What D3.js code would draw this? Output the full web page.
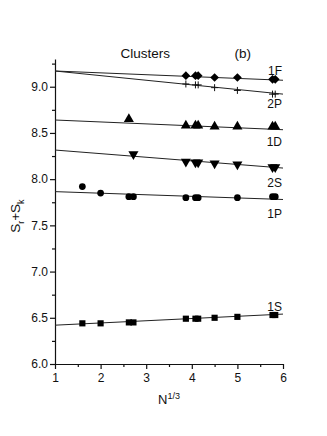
<!DOCTYPE html>
<html>
<head>
<meta charset="utf-8">
<script src="https://cdn.jsdelivr.net/npm/d3@7"></script>
<style>
  body { margin: 0; background: #fff; }
  text { font-family: Arial, "Liberation Sans", sans-serif; fill: #111; }
</style>
</head>
<body>
<div id="chart"></div>
<script>
// cluster sizes on x (N^1/3), one list of values per state
const xs = [1.6, 2.0, 2.62, 2.72, 3.87, 4.08, 4.14, 4.5, 5.0, 5.77, 5.83];

const s1S = [6.44, 6.44, 6.45, 6.45, 6.49, 6.49, 6.49, 6.50, 6.51, 6.53, 6.53];
const p1P = [7.92, 7.85, 7.81, 7.81, 7.80, 7.80, 7.80, null, 7.80, 7.81, 7.81];
const s2S = [null, null, null, 8.27, 8.19, 8.18, 8.18, 8.17, 8.16, 8.13, 8.13];
const d1D = [null, null, 8.65, null, 8.58, 8.58, 8.58, 8.57, 8.57, 8.57, 8.57];
const p2P = [null, null, null, null, 9.03, 9.02, 9.02, 8.99, 8.96, 8.92, 8.92];
const f1F = [null, null, null, null, 9.12, 9.12, 9.12, 9.10, 9.10, 9.08, 9.08];

// fitted lines: value at x = 1 and x = 6
const fits = {
  "1S": [6.42, 6.54],
  "1P": [7.865, 7.78],
  "2S": [8.315, 8.12],
  "1D": [8.64, 8.535],
  "2P": [9.17, 8.92],
  "1F": [9.17, 9.07]
};

const xTicks = [1, 2, 3, 4, 5, 6];
const yTicks = [6.0, 6.5, 7.0, 7.5, 8.0, 8.5, 9.0];

const series = [
  {name: "1S", vals: s1S, sym: d3.symbolSquare, size: 38, labelDy: -3},
  {name: "1P", vals: p1P, sym: d3.symbolCircle, size: 36, labelDy: 19},
  {name: "2S", vals: s2S, sym: "down", size: 44, labelDy: 19},
  {name: "1D", vals: d1D, sym: d3.symbolTriangle, size: 44, labelDy: 16},
  {name: "2P", vals: p2P, sym: "plus", size: 0, labelDy: 14},
  {name: "1F", vals: f1F, sym: "diamond", size: 38, labelDy: -5}
];

const margin = {top: 59, right: 44, bottom: 72, left: 55};
const W = 327, H = 436;
const width = W - margin.left - margin.right;
const height = H - margin.top - margin.bottom;

const svg = d3.select("#chart").append("svg")
  .attr("width", W)
  .attr("height", H)
  .append("g")
  .attr("transform", `translate(${margin.left},${margin.top})`);

const x = d3.scaleLinear().domain([1, 6]).range([0, width]);
const y = d3.scaleLinear().domain([6.0, 9.3]).range([height, 0]);

// axes
const xAxis = svg.append("g")
  .attr("transform", `translate(0,${height})`)
  .call(d3.axisBottom(x).tickValues(xTicks).tickFormat(d3.format("d")).tickSize(5).tickSizeOuter(0));
const xMinor = svg.append("g")
  .attr("transform", `translate(0,${height})`)
  .call(d3.axisBottom(x).tickValues(d3.range(1.5, 6, 1)).tickFormat("").tickSize(3).tickSizeOuter(0));
xMinor.select(".domain").remove();

const yAxis = svg.append("g")
  .call(d3.axisLeft(y).tickValues(yTicks).tickFormat(d3.format(".1f")).tickSize(5).tickSizeOuter(0));
const yMinor = svg.append("g")
  .call(d3.axisLeft(y).tickValues(d3.range(6.25, 9.3, 0.5)).tickFormat("").tickSize(3).tickSizeOuter(0));
yMinor.select(".domain").remove();

svg.selectAll(".tick text").style("font-size", "12px").style("font-family", "Arial, 'Liberation Sans', sans-serif");
xAxis.selectAll(".tick text").attr("dy", "0.85em");
yAxis.selectAll(".tick text").attr("x", -7);
svg.selectAll(".domain, .tick line").attr("stroke", "#111").attr("stroke-width", 1.2);

// fit lines
Object.entries(fits).forEach(([k, v]) => {
  svg.append("line")
    .attr("x1", x(1)).attr("y1", y(v[0]))
    .attr("x2", x(6)).attr("y2", y(v[1]))
    .attr("stroke", "#222")
    .attr("stroke-width", 1);
});

// markers
series.forEach(s => {
  const pts = xs.map((xv, i) => ({x: xv, y: s.vals[i]})).filter(d => d.y != null);
  const g = svg.append("g");
  if (s.sym === "plus") {
    g.selectAll("path").data(pts).enter().append("path")
      .attr("d", d => {
        const cx = x(d.x), cy = y(d.y);
        return `M${cx - 3.5},${cy}H${cx + 3.5}M${cx},${cy - 3.5}V${cy + 3.5}`;
      })
      .attr("stroke", "#111").attr("stroke-width", 1).attr("fill", "none");
  } else {
    const isDown = s.sym === "down";
    const isDiamond = s.sym === "diamond";
    const type = isDown ? d3.symbolTriangle : (isDiamond ? d3.symbolSquare : s.sym);
    const sym = d3.symbol().type(type).size(s.size);
    g.selectAll("path").data(pts).enter().append("path")
      .attr("d", sym)
      .attr("transform", d => `translate(${x(d.x)},${y(d.y)})` +
        (isDown ? " rotate(180)" : "") + (isDiamond ? " rotate(45)" : ""))
      .attr("fill", "#000");
  }
  // state label near right end
  svg.append("text")
    .attr("x", x(6) - 1)
    .attr("y", y(fits[s.name][1]) + s.labelDy)
    .attr("text-anchor", "end")
    .style("font-size", "12px")
    .text(s.name);
});

// titles
svg.append("text")
  .attr("x", x(2.98)).attr("y", -1)
  .attr("text-anchor", "middle")
  .style("font-size", "13.5px")
  .text("Clusters");
svg.append("text")
  .attr("x", x(5.12)).attr("y", -1)
  .attr("text-anchor", "middle")
  .style("font-size", "13.5px")
  .text("(b)");

// axis labels
const xl = svg.append("text")
  .attr("x", x(3.5)).attr("y", height + 40)
  .attr("text-anchor", "middle")
  .style("font-size", "13px");
xl.append("tspan").text("N");
xl.append("tspan").attr("dy", -5).style("font-size", "9px").text("1/3");

const yl = svg.append("text")
  .attr("transform", `translate(${-35},${y(7.6)}) rotate(-90)`)
  .attr("text-anchor", "middle")
  .style("font-size", "13.5px");
yl.append("tspan").text("S");
yl.append("tspan").attr("dy", 4).style("font-size", "9px").text("r");
yl.append("tspan").attr("dy", -4).text("+S");
yl.append("tspan").attr("dy", 4).style("font-size", "9px").text("k");
</script>
</body>
</html>
